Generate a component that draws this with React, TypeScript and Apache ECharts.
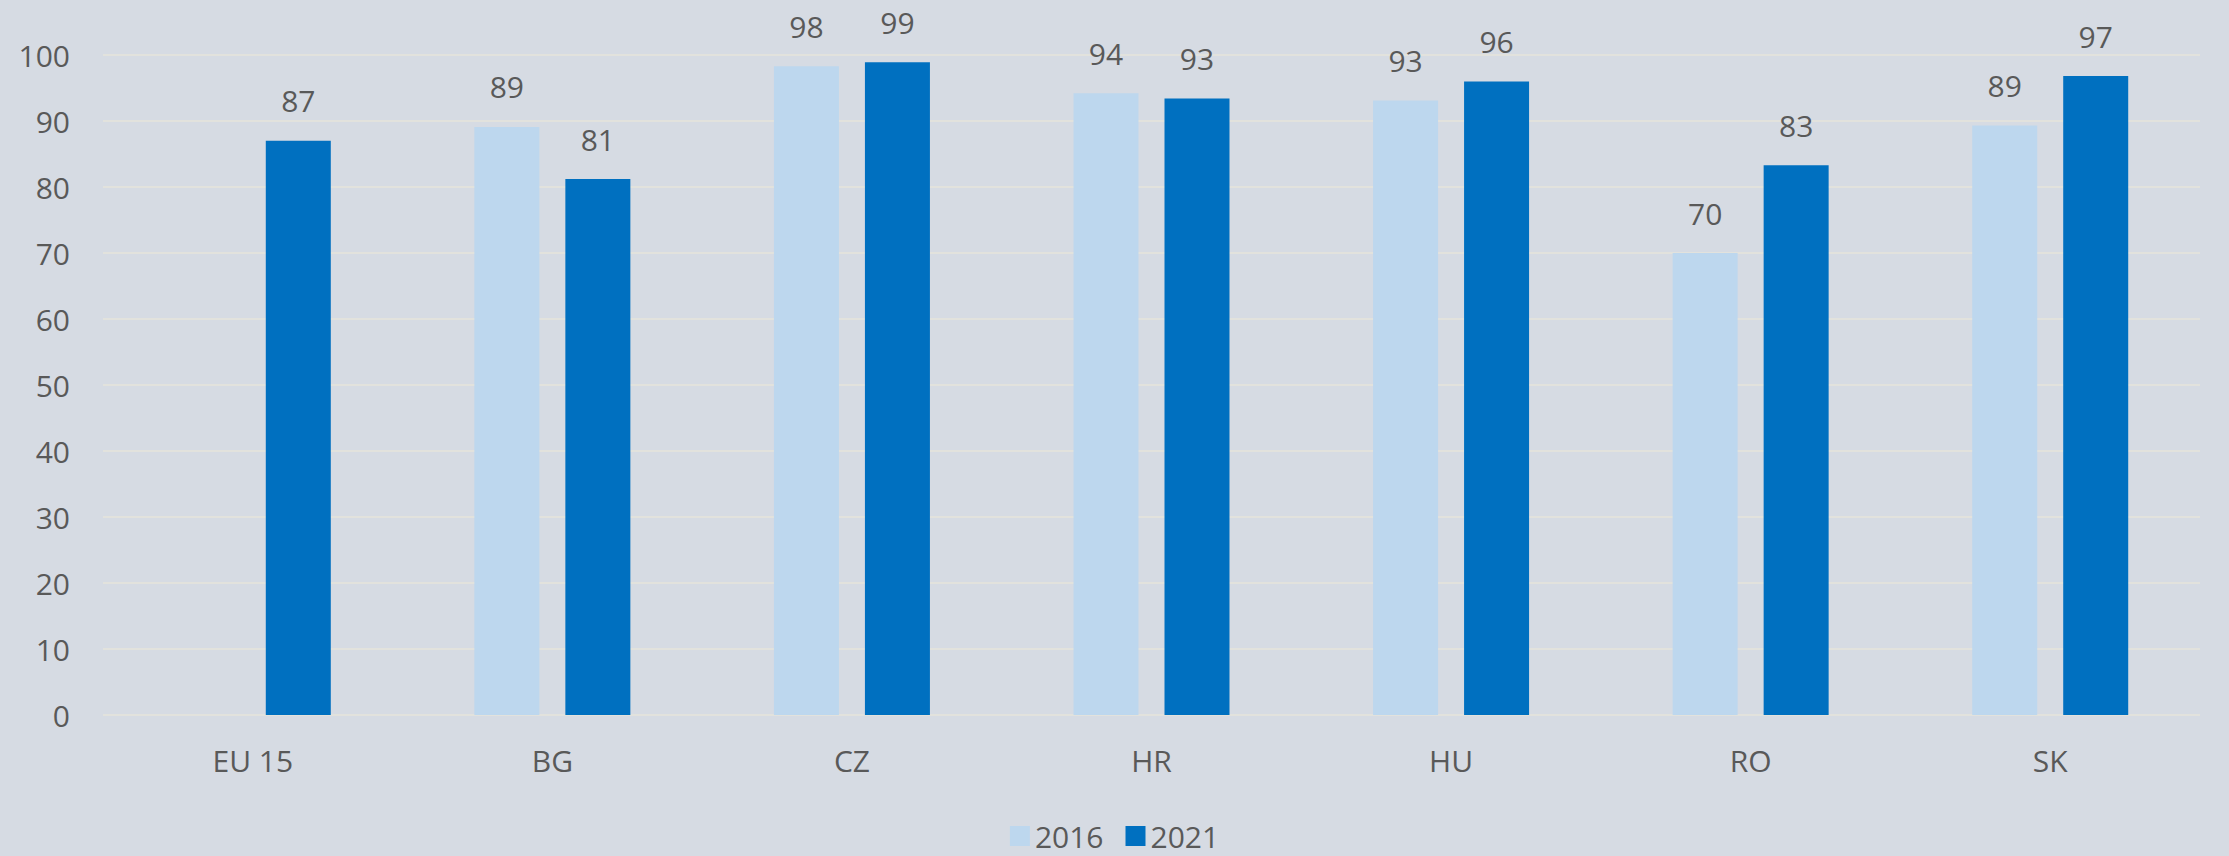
import React, { useEffect, useRef } from "react";
import * as echarts from "echarts";

const categories = ["EU 15", "BG", "CZ", "HR", "HU", "RO", "SK"];
const values2016: (number | null)[] = [null, 89.1, 98.3, 94.2, 93.1, 70.0, 89.3];
const values2021: number[] = [87.0, 81.2, 98.9, 93.4, 96.0, 83.3, 96.8];
const seriesNames = ["2016", "2021"];

const FONT = "'Open Sans', sans-serif";
const TEXT = "#595959";

export default function App() {
  const ref = useRef<HTMLDivElement>(null);
  useEffect(() => {
    if (!ref.current) return;
    const chart = echarts.init(ref.current, undefined, { renderer: "svg" });
    const label = {
      show: true,
      position: "top" as const,
      distance: 25,
      color: TEXT,
      fontSize: 30,
      fontFamily: FONT,
      formatter: (p: any) => (p.value == null ? "" : String(Math.round(p.value))),
    };
    chart.setOption({
      animation: false,
      backgroundColor: "#d6dbe3",
      textStyle: { fontFamily: FONT },
      grid: { left: 103, right: 29, top: 55, bottom: 141, containLabel: false },
      legend: {
        data: seriesNames,
        top: 818,
        left: "center",
        icon: "rect",
        itemWidth: 20,
        itemHeight: 20,
        itemGap: 22,
        padding: 0,
        textStyle: { color: TEXT, fontSize: 30, fontFamily: FONT, lineHeight: 36 },
      },
      xAxis: {
        type: "category",
        data: categories,
        axisLine: { show: false },
        axisTick: { show: false },
        axisLabel: { color: TEXT, fontSize: 30, fontFamily: FONT, margin: 30 },
      },
      yAxis: {
        type: "value",
        min: 0,
        max: 100,
        interval: 10,
        axisLine: { show: false },
        axisTick: { show: false },
        axisLabel: { color: TEXT, fontSize: 30, fontFamily: FONT, margin: 33 },
        splitLine: { lineStyle: { color: "#e2e2dd", width: 2 } },
      },
      series: [
        {
          name: seriesNames[0],
          type: "bar",
          data: values2016,
          barWidth: 65,
          barGap: "40%",
          itemStyle: { color: "#bdd7ee" },
          label,
        },
        {
          name: seriesNames[1],
          type: "bar",
          data: values2021,
          barWidth: 65,
          barGap: "40%",
          itemStyle: { color: "#0070c0" },
          label,
        },
      ],
    });
    return () => chart.dispose();
  }, []);
  return (
    <div
      ref={ref}
      style={{ position: "fixed", left: 0, top: 0, width: 2229, height: 856 }}
    />
  );
}
